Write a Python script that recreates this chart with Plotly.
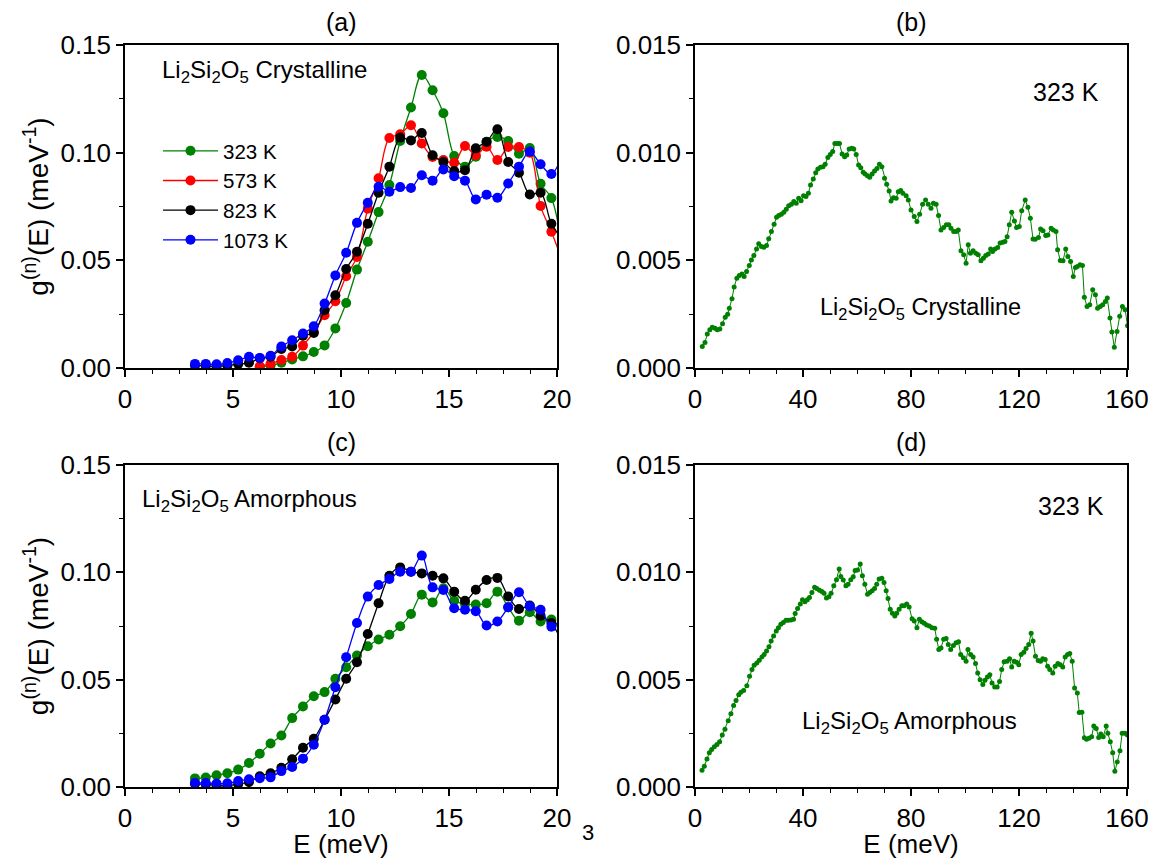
import plotly.graph_objects as go

# ---------------- data ----------------
# Panel (a): Li2Si2O5 crystalline, low-energy g(n)(E) at several temperatures
E_a_full = [3.24, 3.74, 4.24, 4.74, 5.24, 5.74, 6.24, 6.74, 7.24, 7.74, 8.24, 8.74,
            9.24, 9.74, 10.24, 10.74, 11.24, 11.74, 12.24, 12.74, 13.24, 13.74, 14.24,
            14.74, 15.24, 15.74, 16.24, 16.74, 17.24, 17.74, 18.24, 18.74, 19.24, 19.74, 20.24]
E_a_late = [6.24, 6.74, 7.24, 7.74, 8.24, 8.74, 9.24, 9.74, 10.24, 10.74, 11.24, 11.74,
            12.24, 12.74, 13.24, 13.74, 14.24, 14.74, 15.24, 15.74, 16.24, 16.74, 17.24,
            17.74, 18.24, 18.74, 19.24, 19.74, 20.24]

a_323 = [0.0004, 0.0012, 0.0024, 0.0040, 0.0054, 0.0074, 0.0105, 0.0184, 0.0302, 0.0457,
         0.0586, 0.0724, 0.0850, 0.1054, 0.1210, 0.1361, 0.1290, 0.1183, 0.0984, 0.0935,
         0.0981, 0.1051, 0.1073, 0.1054, 0.0995, 0.1022, 0.0856, 0.0789, 0.055]
a_573 = [0.0008, 0.0020, 0.0037, 0.0052, 0.0104, 0.0166, 0.0245, 0.0310, 0.0426, 0.0516,
         0.0740, 0.0881, 0.1068, 0.1085, 0.1127, 0.1043, 0.0980, 0.0966, 0.0953, 0.1031,
         0.0988, 0.1028, 0.0966, 0.1026, 0.1026, 0.1000, 0.0752, 0.0633, 0.050]
a_823 = [0.0012, 0.0010, 0.0008, 0.0012, 0.0018, 0.0024, 0.0045, 0.0052, 0.0088, 0.0100,
         0.0150, 0.0163, 0.0268, 0.0338, 0.0460, 0.0540, 0.0670, 0.0814, 0.0935, 0.1070,
         0.1057, 0.1091, 0.0988, 0.0957, 0.0915, 0.0918, 0.1020, 0.1050, 0.1109, 0.0957,
         0.0907, 0.0806, 0.0814, 0.0670, 0.060]
a_1073 = [0.0019, 0.0019, 0.0017, 0.0023, 0.0036, 0.0052, 0.0047, 0.0057, 0.0100, 0.0129,
          0.0160, 0.0194, 0.0299, 0.0430, 0.0535, 0.0674, 0.0767, 0.0842, 0.0819, 0.0840,
          0.0836, 0.0895, 0.0870, 0.0922, 0.0891, 0.0870, 0.0783, 0.0805, 0.0791, 0.0857,
          0.0935, 0.1005, 0.0946, 0.0901, 0.099]

# Panel (c): Li2Si2O5 amorphous
E_c = E_a_full
c_323 = [0.0040, 0.0044, 0.0055, 0.0064, 0.0081, 0.0112, 0.0155, 0.0203, 0.0240, 0.0321,
         0.0375, 0.0423, 0.0442, 0.0504, 0.0558, 0.0612, 0.0656, 0.0687, 0.0709, 0.0749,
         0.0806, 0.0896, 0.0860, 0.0926, 0.0868, 0.0853, 0.0850, 0.0856, 0.0910, 0.0837,
         0.0775, 0.0814, 0.0771, 0.0780, 0.070]
c_823 = [0.0015, 0.0012, 0.0008, 0.0005, 0.0014, 0.0023, 0.0050, 0.0064, 0.0090, 0.0129,
         0.0183, 0.0225, 0.0313, 0.0408, 0.0504, 0.0581, 0.0713, 0.0856, 0.0984, 0.1023,
         0.1003, 0.0995, 0.0984, 0.0972, 0.0910, 0.0868, 0.0919, 0.0964, 0.0974, 0.0888,
         0.0829, 0.0845, 0.0798, 0.0764, 0.067]
c_1073 = [0.0019, 0.0019, 0.0016, 0.0017, 0.0028, 0.0036, 0.0041, 0.0045, 0.0074, 0.0093,
          0.0132, 0.0197, 0.0313, 0.0465, 0.0605, 0.0764, 0.0887, 0.0941, 0.0969, 0.1003,
          0.1003, 0.1078, 0.0930, 0.0918, 0.0833, 0.0826, 0.0819, 0.0752, 0.0771, 0.0837,
          0.0907, 0.0842, 0.0826, 0.0747, 0.079]

# Panel (b): crystalline 323 K, full range (g in units of 1e-3 meV^-1)
E_b = [2.7, 3.7, 4.55, 5.5, 6.4, 7.4, 8.25, 9.2, 10.2, 11.2, 12.1, 12.7, 13.7, 14.5, 15.5,
       16.4, 17.4, 18.2, 19.1, 20.1, 20.9, 21.8, 22.8, 23.6, 24.6, 25.5, 26.5, 27.3, 28.3,
       29.3, 30.2, 31.0, 32.0, 32.9, 33.8, 34.7, 35.7, 36.6, 37.5, 38.4, 39.3, 40.2, 41.1,
       42.0, 42.8, 43.8, 44.7, 45.5, 46.5, 47.4, 48.2, 49.2, 50.1, 51.0, 51.8, 52.7, 53.5,
       54.5, 55.4, 56.2, 57.1, 58.1, 58.8, 59.7, 60.6, 61.4, 62.3, 63.0, 63.9, 64.7, 65.6,
       66.5, 67.4, 68.3, 69.2, 70.2, 71.0, 71.9, 72.6, 73.5, 74.5, 75.3, 76.2, 77.0, 78.2,
       79.0, 80.0, 81.2, 82.2, 83.2, 84.3, 85.4, 86.4, 87.4, 88.3, 89.3, 90.2, 91.1, 92.1,
       93.1, 94.0, 94.8, 95.8, 96.7, 97.5, 98.5, 99.5, 100.4, 101.2, 102.0, 103.0, 104.0,
       104.9, 105.9, 106.8, 107.7, 108.6, 109.5, 110.2, 111.1, 112.1, 113.0, 114.0, 114.8,
       115.6, 116.4, 117.3, 118.3, 119.1, 120.1, 121.0, 122.3, 123.3, 124.2, 125.2, 126.0,
       127.2, 128.0, 128.9, 129.9, 130.7, 131.9, 132.7, 133.7, 134.3, 135.3, 136.3, 137.3,
       138.1, 139.1, 140.1, 140.9, 141.6, 142.6, 143.5, 144.2, 145.2, 146.2, 147.3, 148.3,
       149.1, 150.1, 151.0, 152.0, 152.7, 153.7, 154.4, 155.3, 156.3, 157.3, 158.3, 159.3,
       160.2]
g_b_milli = [1.00, 1.19, 1.58, 1.78, 1.89, 1.85, 1.78, 1.81, 2.06, 2.36, 2.50, 2.78, 3.22,
             3.76, 4.17, 4.30, 4.37, 4.25, 4.48, 4.76, 5.02, 5.22, 5.53, 5.77, 5.64, 5.61,
             5.69, 6.00, 6.34, 6.68, 7.00, 7.08, 7.14, 7.23, 7.37, 7.54, 7.60, 7.73, 7.65,
             7.88, 7.77, 8.00, 7.96, 8.11, 8.50, 8.78, 9.07, 9.24, 9.32, 9.35, 9.46, 9.77,
             9.92, 10.05, 10.43, 10.43, 10.43, 9.94, 9.81, 9.89, 10.17, 10.20, 10.17, 9.92,
             9.43, 9.30, 9.09, 9.01, 8.93, 8.86, 9.01, 9.15, 9.27, 9.46, 9.35, 8.81, 8.53,
             8.22, 7.76, 7.91, 7.88, 8.19, 8.24, 8.11, 8.00, 7.80, 7.34, 7.03, 6.80, 7.14,
             7.60, 7.80, 7.60, 7.42, 7.65, 7.60, 7.08, 6.41, 6.52, 6.65, 6.65, 6.49, 6.34,
             6.34, 6.41, 5.44, 5.26, 4.87, 5.72, 5.33, 5.44, 5.33, 5.26, 4.98, 5.10, 5.22,
             5.29, 5.53, 5.41, 5.53, 5.60, 5.80, 5.84, 5.87, 6.10, 6.65, 7.23, 6.83, 6.52,
             6.57, 7.30, 7.80, 7.46, 6.96, 5.99, 5.98, 6.06, 6.45, 6.37, 6.15, 6.18, 6.49,
             6.41, 6.34, 5.49, 4.99, 4.98, 5.53, 5.18, 4.95, 4.25, 4.67, 4.71, 4.79, 4.76,
             3.28, 2.86, 2.94, 3.63, 3.40, 2.78, 2.86, 2.94, 3.09, 3.25, 2.32, 1.67, 0.96,
             1.70, 2.40, 2.86, 2.71, 1.96]

# Panel (d): amorphous 323 K, full range (g in units of 1e-3 meV^-1)
E_d = [2.6, 3.45, 4.44, 5.3, 6.17, 7.15, 8.14, 9.12, 10.1, 11.1, 12.3, 13.3, 14.3, 15.2,
       16.2, 17.0, 18.0, 19.2, 20.2, 21.1, 21.9, 22.9, 23.8, 24.8, 25.6, 26.5, 27.4, 28.2,
       29.1, 30.1, 30.9, 31.8, 32.7, 33.7, 34.5, 35.5, 36.5, 37.1, 38.0, 39.0, 39.8, 40.7,
       41.6, 42.4, 43.3, 44.3, 45.1, 46.1, 47.0, 47.8, 48.7, 49.6, 50.4, 51.4, 52.4, 53.4,
       54.0, 54.9, 55.9, 56.7, 57.7, 58.6, 59.3, 60.2, 61.2, 62.0, 62.9, 63.9, 64.7, 65.6,
       66.5, 67.3, 68.2, 69.2, 70.0, 70.8, 71.5, 72.3, 73.1, 74.0, 74.7, 75.6, 76.6, 77.4,
       78.4, 79.3, 80.4, 81.2, 82.2, 83.1, 84.0, 84.9, 85.8, 86.8, 87.8, 88.8, 89.5, 90.3,
       91.1, 92.1, 93.0, 93.8, 94.7, 95.7, 96.7, 97.6, 98.4, 99.4, 100.4, 101.1, 102.1,
       103.0, 103.9, 104.7, 105.6, 106.6, 107.4, 108.3, 109.2, 110.0, 111.0, 111.9, 112.8,
       113.6, 114.5, 115.6, 116.5, 117.3, 118.2, 119.1, 119.9, 120.8, 121.8, 122.6, 123.6,
       124.5, 125.2, 126.1, 127.1, 128.0, 128.8, 129.7, 130.6, 131.4, 132.5, 133.4, 134.4,
       135.3, 136.2, 137.1, 138.0, 138.8, 139.7, 140.6, 141.6, 142.3, 143.3, 144.2, 145.0,
       145.9, 146.9, 147.7, 148.6, 149.5, 150.3, 151.2, 152.3, 152.9, 153.8, 154.7, 155.5,
       156.4, 157.4, 158.2, 159.2, 160.1]
g_d_milli = [0.78, 0.97, 1.30, 1.59, 1.75, 1.87, 1.98, 2.11, 2.42, 2.69, 3.09, 3.41, 3.80,
             4.03, 4.30, 4.41, 4.50, 4.72, 5.16, 5.47, 5.67, 5.78, 5.91, 6.06, 6.17, 6.33,
             6.53, 6.80, 7.03, 7.27, 7.42, 7.58, 7.66, 7.77, 7.77, 7.78, 7.81, 8.08, 8.31,
             8.52, 8.72, 8.63, 8.72, 8.83, 9.06, 9.30, 9.25, 9.17, 9.11, 9.03, 8.80, 8.86,
             9.02, 9.38, 9.66, 10.16, 9.81, 9.64, 9.38, 9.45, 9.66, 9.80, 10.08, 10.11, 10.39,
             9.84, 9.45, 8.98, 9.06, 9.14, 9.25, 9.45, 9.69, 9.73, 9.53, 9.14, 8.78, 8.28,
             8.09, 7.97, 8.09, 8.28, 8.44, 8.44, 8.52, 8.39, 7.84, 7.73, 7.42, 7.81, 7.70,
             7.63, 7.55, 7.50, 7.42, 7.39, 6.88, 6.41, 6.48, 6.88, 6.92, 6.64, 6.41, 6.59,
             6.72, 6.77, 6.17, 6.02, 5.86, 6.41, 6.17, 6.06, 5.75, 5.31, 5.00, 4.77, 4.97,
             5.13, 5.23, 4.84, 4.66, 4.66, 4.92, 5.47, 5.83, 5.86, 5.98, 5.59, 5.86, 5.81,
             5.70, 6.17, 6.28, 6.45, 6.64, 7.16, 6.80, 6.09, 5.89, 5.86, 5.98, 5.94, 5.63,
             5.47, 5.31, 5.63, 5.75, 5.70, 5.59, 6.06, 6.17, 6.22, 5.86, 4.61, 4.38, 3.47,
             3.48, 2.30, 2.22, 2.27, 2.34, 2.84, 2.73, 2.31, 2.47, 2.34, 2.84, 2.50, 2.11,
             1.59, 0.73, 1.17, 1.69, 2.50, 2.50, 2.42]

temps = ["323 K", "573 K", "823 K", "1073 K"]
GREEN, RED, BLACK, BLUE = "#008000", "#ff0000", "#000000", "#0000ff"

FONT = "Liberation Sans, Arial, Helvetica, sans-serif"
OFF = 8                      # default page margin of the html body
W, H = 1159 - OFF, 859 - OFF  # figure size so it fits the window


def px(x):  # window pixel -> paper x
    return (x - OFF) / W


def py(y):  # window pixel -> paper y
    return 1 - (y - OFF) / H


fig = go.Figure()


def low_trace(x, y, color, name, xa, ya, show):
    return go.Scatter(x=x, y=y, mode="lines+markers", name=name,
                      line=dict(color=color, width=1.3, shape="spline", smoothing=1.0),
                      marker=dict(color=color, size=10, symbol="circle"),
                      xaxis=xa, yaxis=ya, showlegend=show)


# Panel (a)
fig.add_trace(low_trace(E_a_late, a_323, GREEN, temps[0], "x", "y", True))
fig.add_trace(low_trace(E_a_late, a_573, RED, temps[1], "x", "y", True))
fig.add_trace(low_trace(E_a_full, a_823, BLACK, temps[2], "x", "y", True))
fig.add_trace(low_trace(E_a_full, a_1073, BLUE, temps[3], "x", "y", True))

# Panel (c)
fig.add_trace(low_trace(E_c, c_323, GREEN, temps[0], "x3", "y3", False))
fig.add_trace(low_trace(E_c, c_823, BLACK, temps[2], "x3", "y3", False))
fig.add_trace(low_trace(E_c, c_1073, BLUE, temps[3], "x3", "y3", False))

# Panels (b) and (d)
g_b = [v / 1000 for v in g_b_milli]
g_d = [v / 1000 for v in g_d_milli]
for xs, ys, xa, ya in [(E_b, g_b, "x2", "y2"), (E_d, g_d, "x4", "y4")]:
    fig.add_trace(go.Scatter(x=xs, y=ys, mode="lines+markers",
                             line=dict(color=GREEN, width=1),
                             marker=dict(color=GREEN, size=5),
                             xaxis=xa, yaxis=ya, showlegend=False))

# ---------------- axes ----------------
xdom_left = [px(125), px(557)]
xdom_right = [px(695), px(1127)]
ydom_top = [py(368), py(45)]
ydom_bot = [py(787), py(465)]

TICK = 26
YT = dict(text="g<sup>(n)</sup>(E) (meV<sup>-1</sup>)",
          font=dict(family=FONT, size=28, color="black"), standoff=4)
XT = dict(text="E (meV)", font=dict(family=FONT, size=26, color="black"), standoff=2)


def axis_common():
    return dict(showline=True, linecolor="black", linewidth=1.5, mirror=True,
                ticks="outside", ticklen=7, tickwidth=1.5, tickcolor="black",
                showgrid=False, zeroline=False, automargin=False,
                tickfont=dict(family=FONT, size=TICK, color="black"))


def mn(d):
    return dict(ticks="outside", dtick=d, ticklen=4, tickwidth=1.2, tickcolor="black")


lay = {}
lay["xaxis"] = dict(axis_common(), domain=xdom_left, anchor="y", range=[0, 20], dtick=5, minor=mn(1.25))
lay["yaxis"] = dict(axis_common(), domain=ydom_top, anchor="x", range=[0, 0.15], dtick=0.05,
                    tickformat=".2f", minor=mn(0.025), title=YT)
lay["xaxis2"] = dict(axis_common(), domain=xdom_right, anchor="y2", range=[0, 160], dtick=40, minor=mn(10))
lay["yaxis2"] = dict(axis_common(), domain=ydom_top, anchor="x2", range=[0, 0.015], dtick=0.005,
                     tickformat=".3f", minor=mn(0.0025))
lay["xaxis3"] = dict(axis_common(), domain=xdom_left, anchor="y3", range=[0, 20], dtick=5, minor=mn(1.25),
                     title=XT)
lay["yaxis3"] = dict(axis_common(), domain=ydom_bot, anchor="x3", range=[0, 0.15], dtick=0.05,
                     tickformat=".2f", minor=mn(0.025), title=YT)
lay["xaxis4"] = dict(axis_common(), domain=xdom_right, anchor="y4", range=[0, 160], dtick=40, minor=mn(10),
                     title=XT)
lay["yaxis4"] = dict(axis_common(), domain=ydom_bot, anchor="x4", range=[0, 0.015], dtick=0.005,
                     tickformat=".3f", minor=mn(0.0025))

fig.update_layout(**lay)

# ---------------- annotations ----------------
ann = []
for txt, xc, yc in [("(a)", 341, 22), ("(b)", 911, 22), ("(c)", 341, 442), ("(d)", 911, 442)]:
    ann.append(dict(text=txt, x=px(xc), y=py(yc), xanchor="center", size=25))

formula = "Li<sub>2</sub>Si<sub>2</sub>O<sub>5</sub>"
ann += [
    dict(text=formula + " Crystalline", x=px(160), y=py(72), xanchor="left", size=24),
    dict(text="323 K", x=px(1031), y=py(92), xanchor="left", size=25),
    dict(text=formula + " Crystalline", x=px(818), y=py(308), xanchor="left", size=23.5),
    dict(text=formula + " Amorphous", x=px(140), y=py(500), xanchor="left", size=24),
    dict(text="323 K", x=px(1036), y=py(506), xanchor="left", size=25),
    dict(text=formula + " Amorphous", x=px(800), y=py(722), xanchor="left", size=24),
    dict(text="3", x=px(588), y=py(832), xanchor="center", size=22),
]
for a in ann:
    sz = a.pop("size")
    a["font"] = dict(family=FONT, size=sz, color="black")
    a["xref"] = "paper"
    a["yref"] = "paper"
    a["showarrow"] = False
    a["yanchor"] = "middle"

fig.update_layout(
    width=W, height=H,
    margin=dict(l=0, r=0, t=0, b=0, autoexpand=False),
    paper_bgcolor="white", plot_bgcolor="white",
    font=dict(family=FONT, color="black"),
    annotations=ann,
    legend=dict(x=px(158), y=py(131), xanchor="left", yanchor="top",
                bgcolor="rgba(0,0,0,0)", borderwidth=0,
                font=dict(family=FONT, size=20.5, color="black"),
                itemwidth=55, tracegroupgap=0),
)

fig.write_html("out.html")
